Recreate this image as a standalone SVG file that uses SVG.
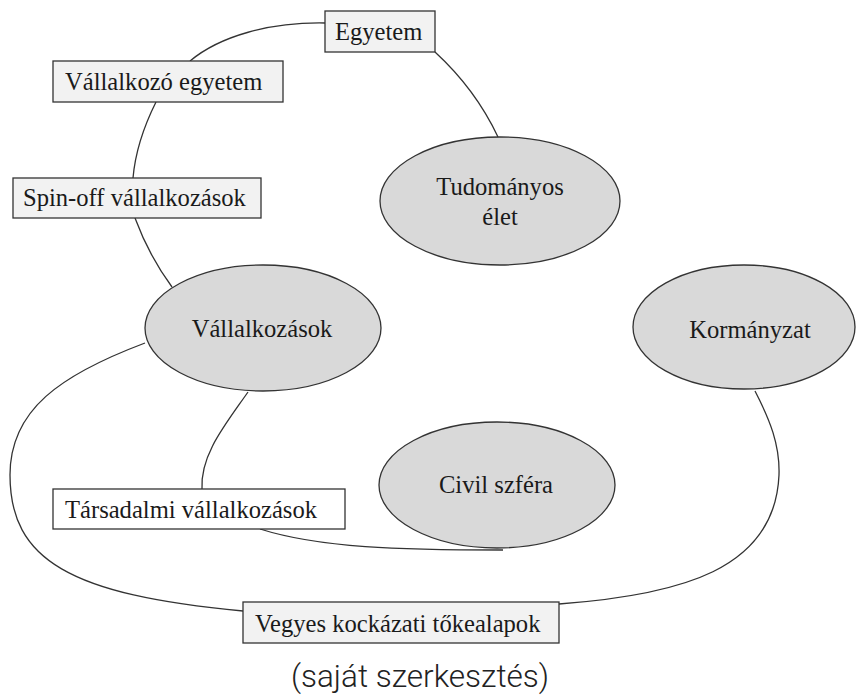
<svg xmlns="http://www.w3.org/2000/svg" width="857" height="699" viewBox="0 0 857 699">
<style>
.box{fill:#f2f2f2;stroke:#333;stroke-width:1.3}
.wbox{fill:#fff;stroke:#333;stroke-width:1.3}
.ell{fill:#d9d9d9;stroke:#333;stroke-width:1.3}
.lbl{font-family:"Liberation Serif","Times New Roman",serif;font-size:24.6px;fill:#1a1a1a}
.mid{text-anchor:middle}
.conn path{fill:none;stroke:#333;stroke-width:1.3}
.cap{font-family:Roboto,"Liberation Sans",sans-serif;font-weight:300;font-size:31.5px;fill:#222;text-anchor:middle}
</style>
<rect width="857" height="699" fill="#fff"/>
<g class="conn" id="connectors">
<path d="M325,23 C270,22 220,36 190,61"/>
<path d="M156,102 C142,130 135,155 133,178"/>
<path d="M135,218 C145,245 158,268 172,287"/>
<path d="M435,52 C460,75 482,103 498,137"/>
<path d="M145,343 C60,375 10,410 10,475 C10,560 70,595 243,611"/>
<path d="M248,392 C225,425 200,455 202,489"/>
<path d="M260,529 C320,548 400,550 503,550"/>
<path d="M755,391 C770,420 780,445 779,475 C775,570 680,595 559,604"/>
</g>
<g id="egyetem"><rect class="box" x="325" y="11" width="110" height="41"/><text class="lbl" x="335" y="40">Egyetem</text></g>
<g id="vallalkozo-egyetem"><rect class="box" x="53" y="61" width="230" height="41"/><text class="lbl" x="65" y="90">Vállalkozó egyetem</text></g>
<g id="spin-off"><rect class="box" x="13" y="178" width="248" height="40"/><text class="lbl" x="23" y="206">Spin-off vállalkozások</text></g>
<g id="tudomanyos"><ellipse class="ell" cx="500" cy="201" rx="120" ry="64"/><text class="lbl mid" x="500" y="195">Tudományos</text><text class="lbl mid" x="500" y="225">élet</text></g>
<g id="vallalkozasok"><ellipse class="ell" cx="263" cy="328" rx="118" ry="63"/><text class="lbl mid" x="262" y="337">Vállalkozások</text></g>
<g id="kormanyzat"><ellipse class="ell" cx="744" cy="327" rx="111" ry="62"/><text class="lbl mid" x="750" y="338">Kormányzat</text></g>
<g id="civil"><ellipse class="ell" cx="497" cy="485" rx="118" ry="63"/><text class="lbl mid" x="496" y="493">Civil szféra</text></g>
<g id="tarsadalmi"><rect class="wbox" x="53" y="489" width="292" height="40"/><text class="lbl" x="65" y="518">Társadalmi vállalkozások</text></g>
<g id="vegyes"><rect class="box" x="243" y="602" width="316" height="41"/><text class="lbl" x="255" y="632">Vegyes kockázati tőkealapok</text></g>
<text class="cap" x="420" y="687">(saját szerkesztés)</text>
</svg>
